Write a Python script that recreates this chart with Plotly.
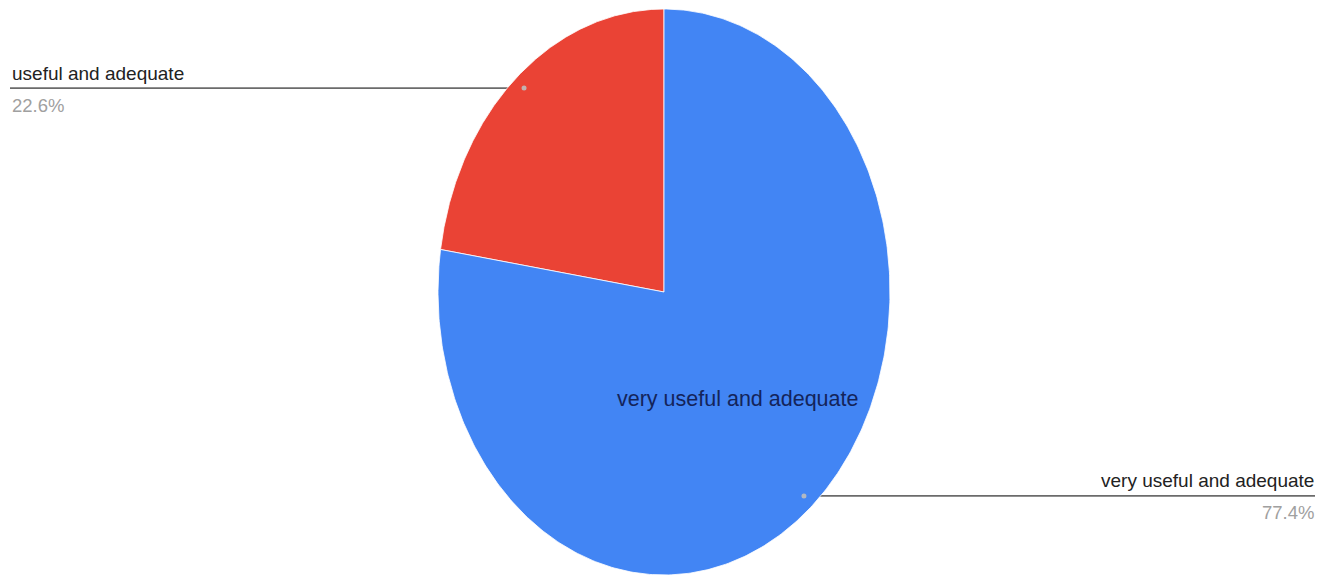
import numpy as np
import plotly.graph_objects as go

# ---- data ----
labels = ["useful and adequate", "very useful and adequate"]
values = [22.6, 77.4]
colors = ["#ea4335", "#4285f4"]

# ---- layout geometry (pixels, the pie is stretched into an ellipse) ----
W, H = 1330, 576
CX, CY = 664, 292
RX, RY = 226, 283

fig = go.Figure()

total = float(sum(values))
fracs = [v / total for v in values]
# angles measured clockwise from 12 o'clock, in degrees
# first slice runs counter-clockwise from the top, second clockwise
slices = [(-360 * fracs[0], 0.0), (0.0, 360 * fracs[1])]


def pt(theta_deg, r):
    t = np.radians(theta_deg)
    return CX + RX * r * np.sin(t), CY - RY * r * np.cos(t)


sides = ["left", "right"]

# leader lines (drawn beneath the pie)
for i, (a, b) in enumerate(slices):
    mid = (a + b) / 2
    dx, dy = pt(mid, 0.95)
    xs = [10, dx] if sides[i] == "left" else [dx, 1315]
    fig.add_trace(go.Scatter(x=xs, y=[dy, dy], mode="lines",
                             line=dict(color="#6b6b6b", width=1.6),
                             hoverinfo="skip", showlegend=False))

# slices
for i, (a, b) in enumerate(slices):
    th = np.linspace(a, b, 400)
    xs, ys = pt(th, 1.0)
    xs = np.concatenate([[CX], xs, [CX]])
    ys = np.concatenate([[CY], ys, [CY]])
    fig.add_trace(go.Scatter(x=xs, y=ys, mode="lines", fill="toself",
                             fillcolor=colors[i],
                             line=dict(color="#ffffff", width=0.8),
                             name=labels[i], hoverinfo="name",
                             showlegend=False))

# dots and outside labels
for i, (a, b) in enumerate(slices):
    mid = (a + b) / 2
    dx, dy = pt(mid, 0.95)
    fig.add_trace(go.Scatter(x=[dx], y=[dy], mode="markers",
                             marker=dict(color="rgba(190,190,190,0.9)", size=5),
                             hoverinfo="skip", showlegend=False))
    pct = f"{values[i] / total * 100:.1f}%"
    if sides[i] == "left":
        xa, xanchor = 10, "left"
    else:
        xa, xanchor = 1316, "right"
    fig.add_annotation(x=xa, y=dy - 15, text=labels[i], showarrow=False,
                       xanchor=xanchor, yanchor="middle",
                       font=dict(family="Liberation Sans, Arial", size=19, color="#222222"))
    fig.add_annotation(x=xa, y=dy + 17, text=pct, showarrow=False,
                       xanchor=xanchor, yanchor="middle",
                       font=dict(family="Liberation Sans, Arial", size=18.5, color="#a0a0a0"))

# inside label on the large slice
a, b = slices[1]
lx, ly = pt((a + b) / 2, 0.5)
fig.add_annotation(x=lx, y=ly, text=labels[1], showarrow=False,
                   xanchor="center", yanchor="middle",
                   font=dict(family="Liberation Sans, Arial", size=21.5, color="#14245a"))

fig.update_layout(
    width=W, height=H,
    margin=dict(l=0, r=0, t=0, b=0),
    paper_bgcolor="white", plot_bgcolor="white",
    showlegend=False,
    xaxis=dict(range=[0, W], visible=False, fixedrange=True),
    yaxis=dict(range=[H, 0], visible=False, fixedrange=True),
)

fig.write_html("out.html",
               config={"displayModeBar": False},
               post_script="document.body.style.margin='0px';document.body.style.overflow='hidden';")
